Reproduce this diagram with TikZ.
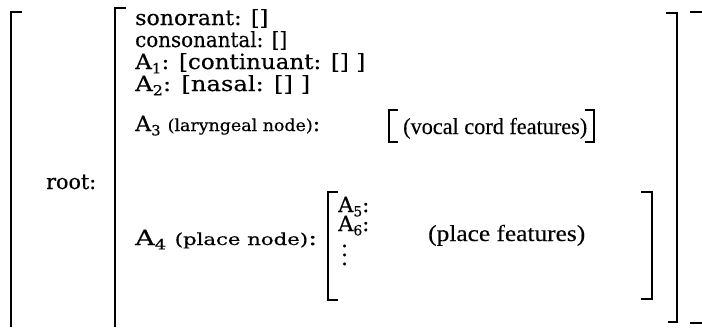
\documentclass[tikz,border=0pt]{standalone}
\usepackage{fontspec}
\setmainfont{DejaVu Serif}[FakeBold=0.4]
\newfontfamily\bigfont{Liberation Serif}[FakeBold=0.3]
\usepackage{graphicx}
\newcommand\mysub[1]{\raisebox{-0.4ex}{\fontsize{14}{14}\selectfont #1}}
\newcommand\fitw[2]{\resizebox{#1}{\height}{#2}}
\newcommand\smallf{\fontsize{16.5}{19}\selectfont}
\begin{document}
\begin{tikzpicture}[x=1pt,y=-1pt,
  txt/.style={anchor=base west, inner sep=0pt, font=\fontsize{21}{25}\selectfont},
  big/.style={txt, font=\bigfont\fontsize{23}{27}\selectfont},
  brk/.style={line width=1.3pt, line join=miter}]
\useasboundingbox (0,0) rectangle (702,327);
% text
\node[txt] (son)  at (135,25)  {\fitw{133pt}{sonorant: []}};
\node[txt] (con)  at (135,47)  {\fitw{152pt}{consonantal: []}};
\node[txt] (a1)   at (135,69)  {\fitw{230pt}{A\mysub{1}: [continuant: [] ]}};
\node[txt] (a2)   at (135,91)  {\fitw{175pt}{A\mysub{2}: [nasal: [] ]}};
\node[txt] (a3)   at (135,131) {\fitw{185pt}{A\mysub{3} {\smallf(laryngeal node)}:}};
\node[txt] (root) at (46,189)  {\fitw{50pt}{root:}};
\node[txt] (a4)   at (135,245) {\fitw{182pt}{A\mysub{4} {\smallf(place node)}:}};
\node[txt] (a5)   at (338,212) {A\mysub{5}:};
\node[txt] (a6)   at (338,231) {A\mysub{6}:};
\node[txt] (dots) at (341,265) {\vbox{\baselineskip=9pt\lineskiplimit=-20pt\hbox{.}\hbox{.}\hbox{.}}};
\node[big] (voc)  at (403,134) {\fitw{184pt}{(vocal cord features)}};
\node[big] (plf)  at (428,241) {\fitw{157pt}{(place features)}};
% brackets
\draw[brk] (22,12) -- (11,12) -- (11,327);
\draw[brk] (126,8) -- (115,8) -- (115,327);
\draw[brk] (666,13) -- (677,13) -- (677,322) -- (668,322);
\draw[brk] (690,12) -- (702,12);
\draw[brk] (690,323) -- (702,323);
\draw[brk] (398,110) -- (389,110) -- (389,142) -- (398,142);
\draw[brk] (585,110) -- (594,110) -- (594,142) -- (585,142);
\draw[brk] (338,192) -- (328,192) -- (328,300) -- (338,300);
\draw[brk] (641,192) -- (652,192) -- (652,299) -- (641,299);
\end{tikzpicture}
\end{document}
